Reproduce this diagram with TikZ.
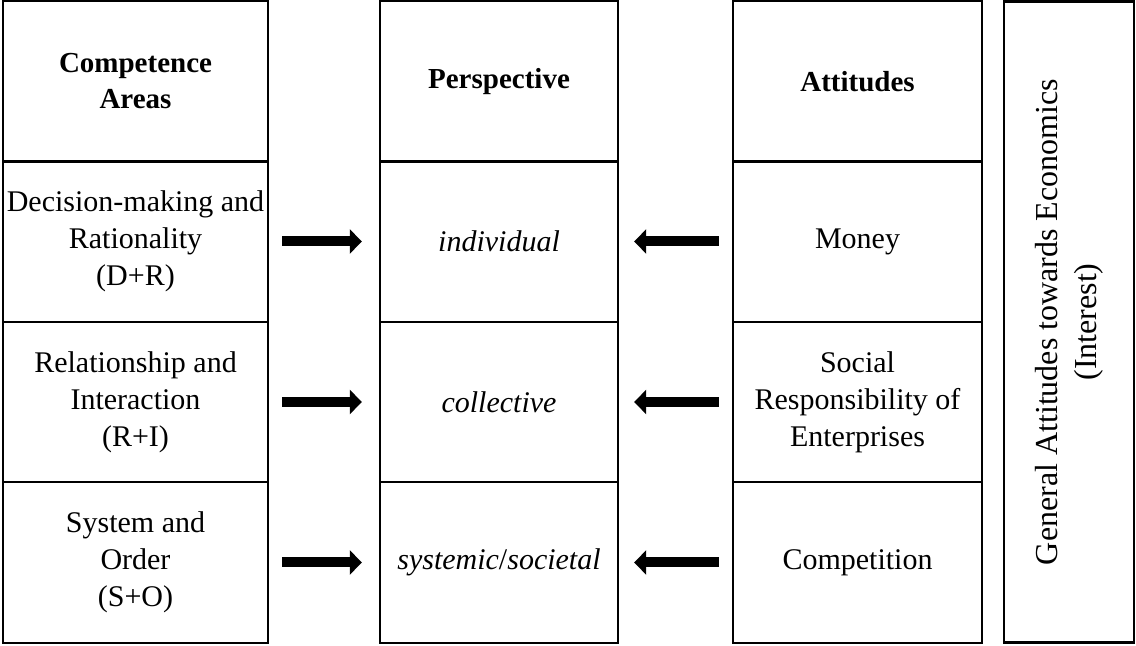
\documentclass[tikz,border=0pt]{standalone}
\usepackage{fontspec}
\setmainfont{Liberation Serif}
\usetikzlibrary{arrows.meta}

\begin{document}
\begin{tikzpicture}[
  x=0.5pt, y=-0.5pt,
  every node/.style={align=center, font=\fontsize{15pt}{18.5pt}\selectfont},
  cell/.style={rectangle, draw, line width=1.2pt, minimum height=80.25pt, inner sep=0pt},
  header/.style={cell, font=\fontsize{14.5pt}{18pt}\selectfont\bfseries},
  push/.style={line width=5pt, -{Triangle[length=6pt, width=12pt]}}
]
\useasboundingbox (0,0) rectangle (1136,646);

% Competence areas
\node[header, minimum width=132.5pt] (areas) at (135.5,81.5) {Competence\\Areas};
\node[cell, minimum width=132.5pt] (dr) at (135.5,241.5) {Decision-making and\\Rationality\\(D+R)};
\node[cell, minimum width=132.5pt] (ri) at (135.5,402) {Relationship and\\Interaction\\(R+I)};
\node[cell, minimum width=132.5pt] (so) at (135.5,562.5) {System and\\Order\\(S+O)};

% Perspective
\node[header, minimum width=119pt] (persp) at (499,81.5) {Perspective};
\node[cell, minimum width=119pt] (indiv) at (499,241.5) {\itshape individual};
\node[cell, minimum width=119pt] (coll) at (499,402) {\itshape collective};
\node[cell, minimum width=119pt] (syst) at (499,562.5) {\itshape systemic\upshape/\itshape societal};

% Attitudes
\node[header, minimum width=124.5pt] (att) at (857.5,81.5) {Attitudes};
\node[cell, minimum width=124.5pt] (money) at (857.5,241.5) {Money};
\node[cell, minimum width=124.5pt] (social) at (857.5,402) {Social\\Responsibility of\\Enterprises};
\node[cell, minimum width=124.5pt] (comp) at (857.5,562.5) {Competition};

% General attitudes
\node[cell, rotate=90, minimum width=320.5pt, minimum height=65pt,
  font=\fontsize{16pt}{19.5pt}\selectfont] (general) at (1069,322)
  {General Attitudes towards Economics\\(Interest)};

% Arrows
\draw[push, shorten <=6.5pt, shorten >=8.5pt] (dr) -- (indiv);
\draw[push, shorten <=6.5pt, shorten >=8.5pt] (ri) -- (coll);
\draw[push, shorten <=6.5pt, shorten >=8.5pt] (so) -- (syst);
\draw[push, shorten <=6.5pt, shorten >=7.5pt] (money) -- (indiv);
\draw[push, shorten <=6.5pt, shorten >=7.5pt] (social) -- (coll);
\draw[push, shorten <=6.5pt, shorten >=7.5pt] (comp) -- (syst);

\end{tikzpicture}
\end{document}
